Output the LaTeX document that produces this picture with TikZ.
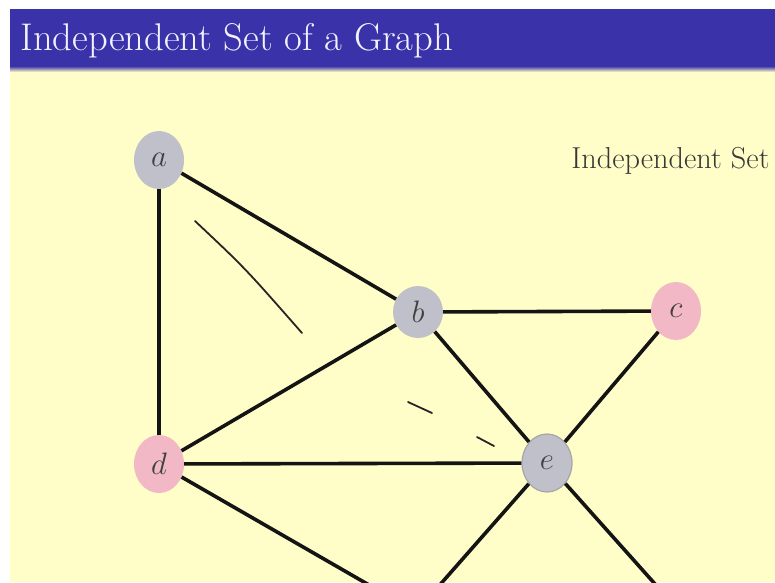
\documentclass[tikz,border=0pt]{standalone}
\usepackage{fix-cm}
\usetikzlibrary{shapes.geometric}
\definecolor{barra}{RGB}{58,50,168}
\definecolor{sfondo}{RGB}{255,253,200}
\definecolor{grigio}{RGB}{192,192,202}
\definecolor{rosa}{RGB}{242,184,198}
\tikzset{
  vertice/.style={ellipse, minimum width=50pt, minimum height=58pt, inner sep=0pt,
    text=black!75, font=\fontsize{31}{34}\selectfont},
  lato/.style={line width=3.6pt, black!92},
  tratto/.style={line width=1.8pt, black!85, line cap=round}
}
\begin{document}
\begin{tikzpicture}[x=1pt,y=-1pt]
        % --- sfondo e barra del titolo ------------------------------------
        \useasboundingbox (0,0) rectangle (775,582);
        \clip (0,0) rectangle (775,582);
        \fill[white] (0,0) rectangle (775,582);
        \fill[sfondo] (10,66) rectangle (775,582);
        \fill[barra] (10,9) rectangle (775,66);
        \shade[top color=barra, bottom color=sfondo] (10,66) rectangle (775,72);
        \node[anchor=base west, text=white!95!blue, font=\fontsize{38.6}{42}\selectfont]
          (titolo) at (17,50) {Independent Set of a Graph};
        \node[anchor=base east, text=black!78, font=\fontsize{30.3}{34}\selectfont]
          (insieme) at (773,168) {Independent Set};
        % --- vertici ------------------------------------------------------
        \node[vertice, fill=grigio] (a) at (159,160) {$a$};
        \node[vertice, fill=grigio, minimum height=52pt] (b) at (418,312) {$b$};
        \node[vertice, fill=rosa] (c) at (676,311) {$c$};
        \node[vertice, fill=rosa] (d) at (159,464) {$d$};
        \node[vertice, fill=grigio, draw=black!35, line width=1.2pt] (e) at (547,463) {$e$};
        \coordinate (f) at (416,612);
        \coordinate (g) at (680,612);
        % --- lati ---------------------------------------------------------
        \draw[lato] (a) -- (b);
        \draw[lato] (a) -- (d);
        \draw[lato] (b) -- (c);
        \draw[lato] (b) -- (d);
        \draw[lato] (b) -- (e);
        \draw[lato] (c) -- (e);
        \draw[lato] (d) -- (e);
        \draw[lato] (d) -- (f);
        \draw[lato] (e) -- (f);
        \draw[lato] (e) -- (g);
        % --- segni a mano -------------------------------------------------
        \draw[tratto] (195,221) .. controls (245,268) .. (302,333);
        \draw[tratto] (408,402) -- (432,413);
        \draw[tratto] (477,437) -- (494,446);
\end{tikzpicture}
\end{document}
